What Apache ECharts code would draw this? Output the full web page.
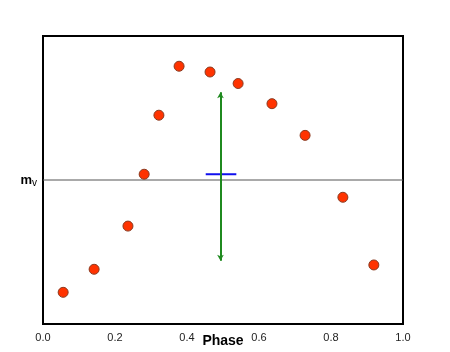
<!DOCTYPE html>
<html>
<head>
<meta charset="utf-8">
<script src="https://cdn.jsdelivr.net/npm/echarts@6/dist/echarts.min.js"></script>
<style>
  html, body { margin: 0; padding: 0; background: #fff; }
  #chart { width: 450px; height: 352px; }
</style>
</head>
<body>
<div id="chart"></div>
<script>
// light curve points (phase, relative brightness)
const phase = [0.056, 0.142, 0.236, 0.281, 0.322, 0.378, 0.464, 0.542, 0.636, 0.728, 0.833, 0.919];
const mag = [-0.78, -0.62, -0.32, 0.04, 0.45, 0.79, 0.75, 0.67, 0.53, 0.31, -0.12, -0.59];

// mean line, amplitude arrow and mean marker
const meanLine = [[0, 0], [1, 0]];
const arrowPhase = 0.493;
const arrowRange = [0.61, -0.56];
const markerPhase = [0.452, 0.537];
const markerLevel = 0.04;

const xTicks = ['0.0', '0.2', '0.4', '0.6', '0.8', '1.0'];

const chart = echarts.init(document.getElementById('chart'));

chart.setOption({
  backgroundColor: '#fff',
  animation: false,
  textStyle: { fontFamily: 'Liberation Sans, Arial, sans-serif' },
  grid: {
    left: 43, right: 47, top: 36, bottom: 28,
    outerBoundsMode: 'none',
    containLabel: false,
    show: true,
    borderColor: '#000',
    borderWidth: 2,
    backgroundColor: 'transparent'
  },
  xAxis: {
    type: 'value',
    min: 0, max: 1, interval: 0.2,
    name: 'Phase',
    nameLocation: 'middle',
    nameGap: 10,
    nameMoveOverlap: false,
    nameTextStyle: { fontSize: 14, fontWeight: 'bold', color: '#000' },
    axisLine: { show: false },
    axisTick: { show: false },
    splitLine: { show: false },
    axisLabel: {
      margin: 8,
      fontSize: 11,
      color: '#222',
      formatter: (v) => xTicks[Math.round(v * 5)]
    }
  },
  yAxis: {
    type: 'value',
    min: -1, max: 1, interval: 1,
    axisLine: { show: false },
    axisTick: { show: false },
    splitLine: { show: false },
    axisLabel: {
      margin: 6,
      formatter: (v) => (v === 0 ? '{m|m}{v|v}' : ''),
      rich: {
        m: { fontSize: 13, fontWeight: 'bold', color: '#000' },
        v: { fontSize: 10, color: '#000', verticalAlign: 'bottom', padding: [6, 0, 0, 0] }
      }
    }
  },
  series: [
    {
      type: 'line',
      data: meanLine,
      symbol: 'none',
      silent: true,
      lineStyle: { color: '#555', width: 1 },
      z: 1
    },
    {
      type: 'line',
      data: markerPhase.map((p) => [p, markerLevel]),
      symbol: 'none',
      silent: true,
      lineStyle: { color: '#1010ee', width: 2 },
      z: 2,
      markLine: {
        silent: true,
        symbol: ['arrow', 'arrow'],
        symbolSize: [5, 6],
        label: { show: false },
        lineStyle: { color: '#1f8a1f', width: 2, type: 'solid' },
        data: [[
          { coord: [arrowPhase, arrowRange[0]] },
          { coord: [arrowPhase, arrowRange[1]] }
        ]]
      }
    },
    {
      type: 'scatter',
      data: phase.map((p, i) => [p, mag[i]]),
      symbolSize: 10,
      itemStyle: { color: '#ff3300', borderColor: '#8a3a20', borderWidth: 1, opacity: 1 },
      z: 3
    }
  ]
});
</script>
</body>
</html>
